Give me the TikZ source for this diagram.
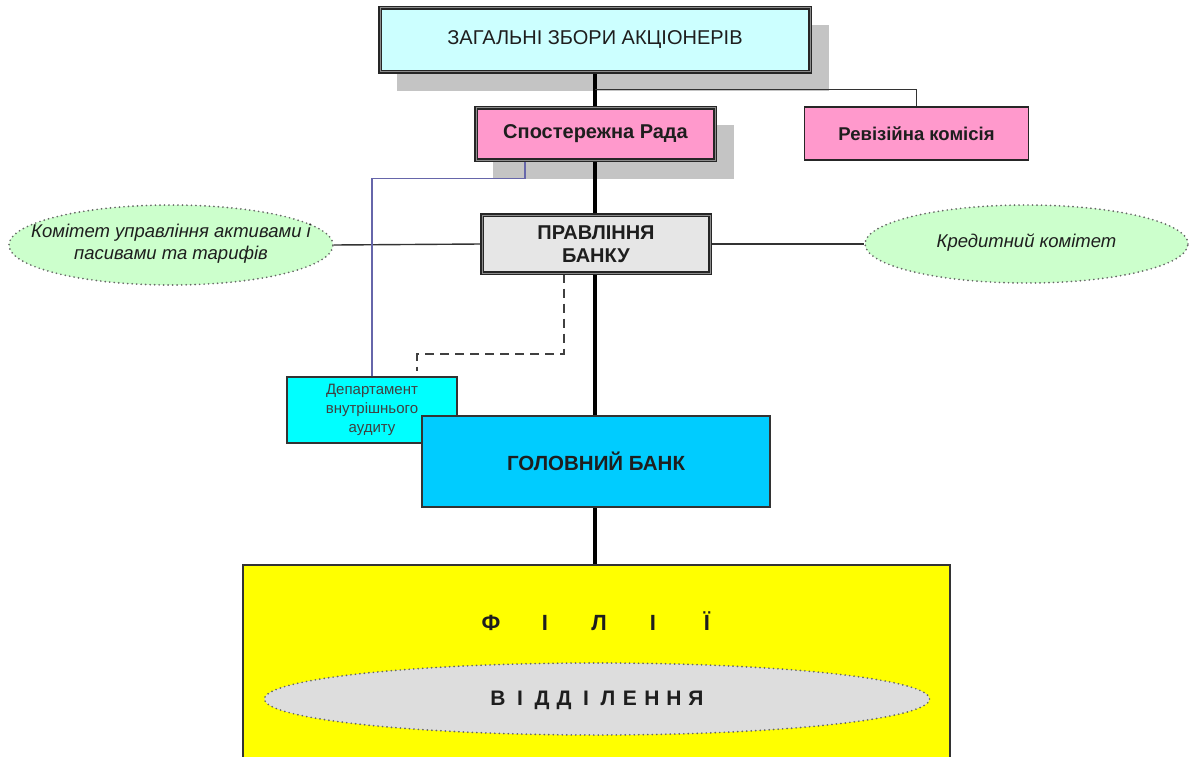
\documentclass[tikz,border=0pt]{standalone}
\usepackage{fontspec}
\setmainfont{Liberation Sans}
\usetikzlibrary{shapes.geometric}
\pgfdeclarelayer{shadowlayer}
\pgfdeclarelayer{linelayer}
\pgfsetlayers{shadowlayer,linelayer,main}
\definecolor{topfill}{HTML}{CCFFFF}
\definecolor{pinkfill}{HTML}{FF99CC}
\definecolor{pravfill}{HTML}{E6E6E6}
\definecolor{greenfill}{HTML}{CCFFCC}
\definecolor{deptfill}{HTML}{00FFFF}
\definecolor{gbfill}{HTML}{00CCFF}
\definecolor{yellowfill}{HTML}{FFFF00}
\definecolor{grayfill}{HTML}{DDDDDD}
\definecolor{shadowgray}{HTML}{C4C4C4}
\definecolor{bluelink}{HTML}{6666AA}
\definecolor{txt}{HTML}{1E1E1E}
\tikzset{
  dblbox/.style={draw=black!85, line width=1.3pt, double=black!45, double distance=1pt, text=txt, inner sep=0pt, align=center},
  plainbox/.style={draw=black!85, line width=1.8pt, text=txt, inner sep=0pt, align=center},
  thinbox/.style={draw=black!80, line width=1.3pt, text=txt, inner sep=0pt, align=center},
  dotborder/.style={draw=black!60, line width=1.9pt, line cap=round, dash pattern=on 0pt off 4.5pt},
  committee/.style={ellipse, dotborder, fill=greenfill, inner sep=0pt},
  committeetext/.style={text=txt, inner sep=0pt, align=center, font=\itshape\fontsize{18.5}{22}\selectfont},
  mainline/.style={line width=3.4pt, black},
  link/.style={line width=1.4pt, black!80},
}
\begin{document}
\begin{tikzpicture}[x=1pt,y=-1pt]
\useasboundingbox (0,0) rectangle (1191,757);
% nodes
\node[dblbox, fill=topfill, minimum width=430pt, minimum height=64pt, font=\fontsize{20}{24}\selectfont] (top) at (595,40) {ЗАГАЛЬНІ ЗБОРИ АКЦІОНЕРІВ};
\node[dblbox, fill=pinkfill, minimum width=239pt, minimum height=52pt, font=\bfseries\fontsize{20}{24}\selectfont] (sr) at (595.5,134) {Спостережна Рада};
\node[plainbox, fill=pinkfill, minimum width=224pt, minimum height=53pt, font=\bfseries\fontsize{18.5}{22}\selectfont] (rev) at (916.5,133.5) {Ревізійна комісія};
\node[dblbox, fill=pravfill, minimum width=228pt, minimum height=58pt, font=\bfseries\fontsize{20}{23}\selectfont] (prav) at (596,244) {ПРАВЛІННЯ\\БАНКУ};
\node[committee, minimum width=324pt, minimum height=80pt] (le) at (171,245) {};
\node[committeetext] (letext) at (171,244) {Комітет управління активами і\\пасивами та тарифів};
\node[committee, minimum width=323pt, minimum height=78pt] (re) at (1026.5,244) {};
\node[committeetext] (retext) at (1026.5,243) {Кредитний комітет};
\node[thinbox, fill=deptfill, minimum width=170pt, minimum height=66pt, text=black!75, font=\fontsize{15}{19}\selectfont] (dept) at (372,410) {Департамент\\внутрішнього\\аудиту};
\node[thinbox, fill=gbfill, minimum width=348pt, minimum height=91pt, font=\bfseries\fontsize{20.5}{24}\selectfont] (gb) at (596,461.5) {ГОЛОВНИЙ БАНК};
\node[thinbox, fill=yellowfill, minimum width=707pt, minimum height=210pt] (fil) at (596.5,670) {};
\node[text=txt, font=\bfseries\fontsize{22}{26}\selectfont] (filt) at (599,621) {\makebox[54pt]{Ф}\makebox[54pt]{І}\makebox[54pt]{Л}\makebox[54pt]{І}\makebox[54pt]{Ї}};
\node[ellipse, dotborder, fill=grayfill, minimum width=665pt, minimum height=72pt, inner sep=0pt] (vid) at (597,699) {};
\node[text=txt, font=\bfseries\fontsize{21}{25}\selectfont] (vidtext) at (597,700) {\makebox[22pt]{В}\makebox[22pt]{І}\makebox[22pt]{Д}\makebox[22pt]{Д}\makebox[22pt]{І}\makebox[22pt]{Л}\makebox[22pt]{Е}\makebox[22pt]{Н}\makebox[22pt]{Н}\makebox[22pt]{Я}};
% shadows
\begin{pgfonlayer}{shadowlayer}
\fill[shadowgray] ([shift={(18pt,-18pt)}]top.south west) rectangle ([shift={(18pt,-18pt)}]top.north east);
\fill[shadowgray] ([shift={(18pt,-18pt)}]sr.south west) rectangle ([shift={(18pt,-18pt)}]sr.north east);
\end{pgfonlayer}
% connectors
\begin{pgfonlayer}{linelayer}
\draw[mainline] (top.south) -- (top.south |- fil.north);
\draw[link] ([yshift=-17pt]top.south) -| (rev.north);
\draw[link] (le.east) -- (prav.west);
\draw[link] (prav.east) -- (re.west);
\draw[bluelink, line width=1.1pt] ([xshift=-70.5pt]sr.south) -- ++(0,18) -| (dept.north);
\draw[black!75, line width=1.8pt, dash pattern=on 9pt off 6pt] ([xshift=-32pt]prav.south) -- ++(0,80) -| ([xshift=45pt,yshift=5pt]dept.north);
\end{pgfonlayer}
\end{tikzpicture}
\end{document}
